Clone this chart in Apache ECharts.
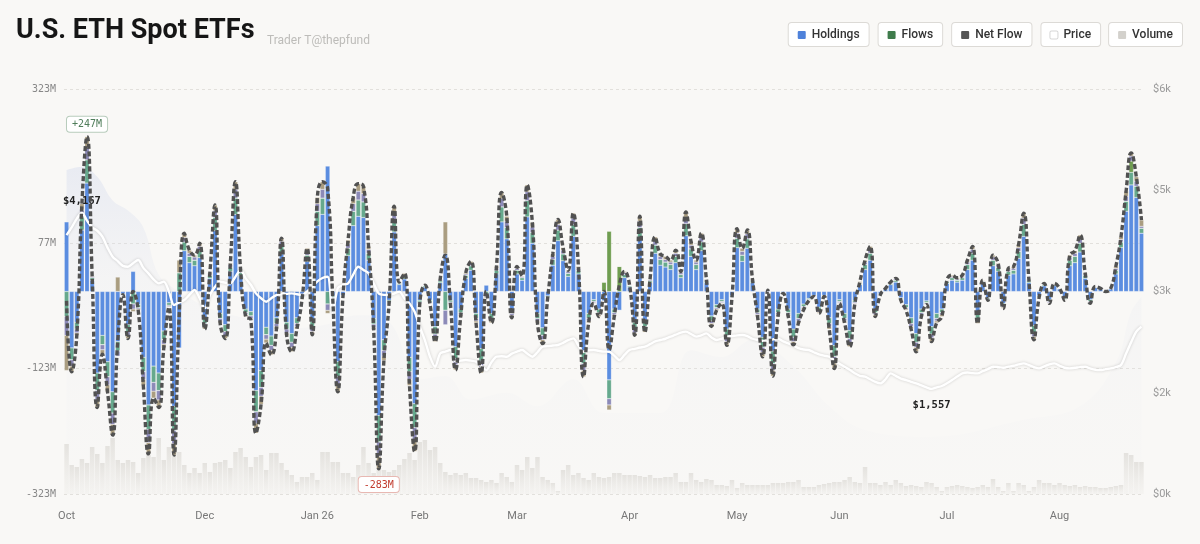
<!DOCTYPE html>
<html><head><meta charset="utf-8">
<script src="https://cdn.jsdelivr.net/npm/echarts@6/dist/echarts.min.js"></script>
<style>html,body{margin:0;padding:0;background:#f9f8f6}#c{width:1200px;height:544px}</style>
</head><body><div id="c"></div>
<script>
// ---- data ----
const monthLabels = ['Oct','Dec','Jan 26','Feb','Mar','Apr','May','Jun','Jul','Aug'];
const monthDays   = [27,22,20,19,22,21,20,21,22,17];

// daily flows ($M) by fund group
const holdings = [
111,-90,-49,98,173,18,-130,-70,-112,-160,
-80,-4,-53,32,-21,-105,-181,-119,-130,-63,
-18,-183,-90,65,46,41,54,-42,21,97,
-35,-53,32,123,25,-28,-32,-158,-126,-57,
-71,-42,60,-49,-67,-42,-9,48,-48,105,
123,200,-7,-112,-6,57,105,120,118,50,
-43,-198,-77,-14,95,11,20,-105,-179,-14,
7,-14,-56,14,60,-14,-88,-28,21,34,
-35,-91,10,-35,28,111,84,-29,28,18,
119,77,-35,-58,-7,42,81,49,24,88,
28,-95,-35,-13,-28,-15,-141,-28,-30,22,
7,-49,84,-46,14,61,42,39,35,46,
22,89,56,35,65,14,-39,-21,-13,-60,
-7,70,48,69,14,-28,-73,1,-95,-28,
-2,-28,-60,-35,-20,-11,-6,-25,-6,-42,
-86,-13,-35,-62,-14,11,35,50,-28,-4,
4,11,15,-10,-21,-42,-67,-28,-15,-56,
-35,-28,13,18,15,18,35,50,-36,13,
-10,41,32,-19,26,28,53,88,14,-54,
-7,9,-13,9,4,-10,41,46,63,21,
-13,6,4,0,4,28,70,128,170,150,
93];
const flows = [
-40,-19,-11,21,37,4,-28,-15,-24,-34,
-15,-1,-11,-20,-5,-23,-39,-26,-28,-14,
-4,-39,30,14,10,9,12,-9,5,21,
-8,-11,7,26,5,-6,-7,-34,-27,-12,
-15,-9,13,-11,-14,-9,-2,10,-10,23,
26,-20,-2,-24,-1,12,23,26,25,11,
-9,-42,-17,-3,20,2,4,-23,-38,-3,
2,-3,-12,3,-30,-3,-19,-6,5,7,
-8,-20,-6,-8,6,24,18,-6,6,4,
26,17,-8,-12,-2,9,17,11,5,19,
6,-20,-8,-3,-6,0,-30,-6,0,5,
2,-11,18,-10,3,13,9,8,8,10,
5,19,12,8,14,3,-8,-5,-3,-13,
-2,15,10,15,3,-6,-16,1,-20,-6,
-1,-6,-13,-8,-4,-2,-1,-5,-1,-9,
-18,-3,-8,-13,-3,2,8,11,-6,-1,
1,2,3,-2,-5,-9,-14,-6,-3,-12,
-8,-6,3,4,3,4,8,11,-8,3,
-2,9,7,-4,6,6,11,19,3,-12,
-2,2,-3,2,1,-2,9,10,14,5,
-3,1,1,0,1,6,9,16,20,18,
8];
const miniFlows = [
-30,-10,-6,11,20,2,-15,-8,-13,-18,
-8,0,-6,-8,-2,-12,-21,-14,-15,-7,
-2,-21,0,7,5,5,6,-5,2,11,
-4,-6,4,14,3,-3,-4,-18,-14,-7,
-8,-5,7,-6,-8,-5,-1,6,-6,12,
14,-10,-1,-13,-1,7,12,14,13,6,
-5,-23,-9,-2,11,1,2,-12,-20,-2,
1,-2,-6,2,-23,-2,-10,-3,2,4,
-4,-10,-2,-4,3,13,10,-3,3,2,
14,9,-4,-7,-1,5,9,6,3,10,
3,-11,-4,-2,-3,0,-10,-3,0,3,
1,-6,10,-5,2,7,5,4,4,5,
3,10,6,4,7,2,-4,-2,-2,-7,
-1,8,6,8,2,-3,-8,0,-11,-3,
0,-3,-7,-4,-2,-1,-1,-3,-1,-5,
-10,-2,-4,-7,-2,1,4,6,-3,0,
0,1,2,-1,-2,-5,-8,-3,-2,-6,
-4,-3,1,2,2,2,4,6,-4,1,
-1,5,4,-2,3,3,6,10,2,-6,
-1,1,-2,1,0,-1,5,5,7,2,
-2,1,0,0,0,3,4,8,8,8,
3];
const otherFlows = [
-56,-9,-4,10,17,1,-12,-7,-11,-17,
23,0,-5,-4,-2,-10,-18,-11,-12,-6,
-1,-18,20,7,5,3,5,-4,2,9,
-3,-5,2,12,2,-3,-2,-16,-13,-6,
-7,-4,5,-4,-7,-4,-1,5,-5,10,
12,-5,0,-11,0,6,10,12,12,5,
-4,-20,-7,-1,10,1,3,-10,-18,-1,
0,-1,-6,1,51,-1,-8,-3,2,3,
-3,-9,-2,-3,3,10,8,-4,3,1,
11,7,-3,-6,0,4,8,4,2,8,
3,-10,-3,-1,-3,0,-8,-3,0,2,
0,-4,8,-4,1,6,4,5,3,5,
2,9,6,3,7,1,-5,-2,-1,-6,
0,7,5,6,1,-3,-7,0,-9,-3,
0,-3,-5,-3,-3,-1,0,-2,0,-4,
-9,-1,-3,-6,-1,2,3,5,-3,0,
0,1,1,-1,-2,-4,-7,-3,-1,-6,
-3,-3,1,2,2,2,3,5,-3,1,
-1,3,2,-2,2,3,5,8,1,-5,
0,1,-1,1,0,-1,3,4,6,2,
-1,0,0,0,0,3,4,8,5,7,
10];
const greenFlows = [[105,15],[106,96],[108,40],[208,18]]; // [day index, $M]

// ETH price ($)
const price = [
3836,3950,4080,4167,4050,3950,3900,3812,3650,3516,
3450,3380,3367,3420,3466,3350,3269,3180,3121,3146,
3000,2799,2840,2873,2950,3022,2900,2750,2950,3071,
3146,3130,3121,3220,3318,3195,3100,2972,2900,2849,
2900,2948,2960,2965,2972,2960,2948,3000,3071,3150,
3200,3219,2700,3050,3096,3121,3250,3367,3320,3269,
3120,2972,2950,2948,2970,2998,2900,2824,2700,2478,
2281,2034,1886,2084,2110,2133,1961,1975,1985,1975,
1961,1900,1837,1950,2034,2040,2034,2080,2110,2133,
2080,2034,2100,2182,2190,2200,2207,2240,2280,2306,
2200,2108,2130,2133,2120,2110,2108,2050,1985,2060,
2133,2150,2170,2182,2220,2260,2281,2300,2331,2360,
2390,2405,2370,2331,2350,2380,2320,2281,2300,2331,
2340,2350,2355,2340,2300,2281,2270,2257,2290,2300,
2260,2232,2200,2160,2140,2133,2100,2070,2050,2034,
1980,1930,1886,1840,1790,1750,1738,1700,1660,1639,
1700,1787,1750,1710,1688,1660,1639,1610,1580,1557,
1580,1600,1640,1688,1740,1787,1800,1790,1787,1820,
1850,1886,1880,1870,1886,1900,1920,1935,1910,1880,
1861,1890,1920,1935,1900,1870,1861,1870,1880,1886,
1860,1840,1836,1850,1861,1880,1910,2080,2250,2405,
2479];

// trading volume ($M)
const volume = [
500,290,270,350,310,470,400,310,480,560,
340,310,340,320,210,360,390,370,560,340,
470,440,420,290,210,260,210,310,220,310,
320,340,260,420,460,370,270,370,390,240,
410,410,310,240,190,120,170,170,210,140,
420,420,320,320,210,210,170,290,470,310,
210,310,240,220,240,290,350,410,340,520,
540,440,470,310,220,190,210,190,210,160,
160,140,120,140,110,210,170,120,290,240,
370,260,370,170,140,110,30,240,290,190,
210,160,140,210,170,160,170,210,210,190,
190,190,180,170,190,160,160,170,170,210,
120,120,210,140,120,150,140,90,90,80,
140,60,110,90,90,90,90,90,110,110,
110,120,120,140,70,70,70,90,100,110,
120,120,140,170,120,110,270,110,110,90,
120,90,140,110,80,90,80,70,120,110,
70,30,70,80,90,80,70,60,70,90,
70,150,70,30,110,30,110,90,30,70,
140,110,110,90,110,90,80,90,70,80,
70,70,60,60,70,80,90,410,390,320,
320];

// background holdings-value band (price scale), [day index, value]
const holdingsValueKnots = [
[0,4800],[3,4850],[6,4700],[9,4350],[12,4200],[15,3950],[18,3250],[22,3000],[28,2750],[35,2600],
[42,2450],[50,2500],[57,2650],[63,2550],[69,1700],[74,1750],[79,1400],[86,1500],[92,1300],[99,1700],
[105,1200],[116,1200],[122,2130],[128,2030],[134,2280],[142,1890],[149,1300],[156,950],[169,850],[187,1100],
[198,1300],[205,1950],[208,2700],[210,2920]];

const leftTicks = [-323,-123,77,323];

// ---- build ----
const categories = [];
monthLabels.forEach((m, k) => { for (let d = 0; d < monthDays[k]; d++) categories.push(m + '|' + d); });
const N = categories.length;
const green = new Array(N).fill(0);
greenFlows.forEach(([i, v]) => { green[i] = v; });
const netFlow = categories.map((_, i) => holdings[i] + flows[i] + miniFlows[i] + otherFlows[i] + green[i]);
const areaData = new Array(N).fill(null);
holdingsValueKnots.forEach(([i, v]) => { areaData[i] = v; });

const MONO = '"DejaVu Sans Mono", "Liberation Mono", monospace';
const SANS = 'Roboto, "Noto Sans", sans-serif';
const seg = { borderColor: 'rgba(255,255,255,0.6)', borderWidth: 0.4 };
function stackBar(name, data, color) {
  return { name, type: 'bar', stack: 'flow', data, barWidth: 4.5, xAxisIndex: 0, yAxisIndex: 0,
    itemStyle: Object.assign({ color }, seg), z: 3, animation: false };
}
const legendKey = { 'Holdings': 'h', 'Flows': 'f', 'Net Flow': 'n', 'Price': 'p', 'Volume': 'v' };

const chart = echarts.init(document.getElementById('c'), null, { renderer: 'canvas' });
chart.setOption({
  animation: false,
  backgroundColor: '#f9f8f6',
  title: [
    { text: 'U.S. ETH Spot ETFs', left: 11, top: 13,
      textStyle: { fontFamily: SANS, fontWeight: 'bold', fontSize: 27, color: '#161616' } },
    { text: 'Trader T@thepfund', left: 262, top: 30,
      textStyle: { fontFamily: SANS, fontWeight: 'normal', fontSize: 12, color: '#bdbcb9' } }
  ],
  legend: {
    data: ['Holdings', 'Flows', 'Net Flow', 'Price', 'Volume'],
    right: 12, top: 17, itemWidth: 0, itemHeight: 0, itemGap: 3, selectedMode: false,
    formatter: name => '{' + legendKey[name] + '|}{t|' + name + '}',
    textStyle: {
      backgroundColor: '#ffffff', borderColor: '#dcdad6', borderWidth: 1, borderRadius: 3,
      padding: [6, 9, 5, 9],
      rich: {
        h: { width: 8, height: 8, backgroundColor: '#4f82da', borderRadius: 1 },
        f: { width: 8, height: 8, backgroundColor: '#3f7c4c', borderRadius: 1 },
        n: { width: 8, height: 8, backgroundColor: '#555555', borderRadius: 1 },
        p: { width: 7, height: 7, backgroundColor: '#ffffff', borderColor: '#d6d6d6', borderWidth: 1, borderRadius: 1 },
        v: { width: 8, height: 8, backgroundColor: '#d3d1cc', borderRadius: 1 },
        t: { fontFamily: SANS, fontSize: 12, fontWeight: 500, color: '#333', padding: [0, 0, 0, 6] }
      }
    }
  },
  grid: { left: 64, right: 56, top: 89, bottom: 50 },
  xAxis: [
    { type: 'category', data: categories, boundaryGap: true,
      axisLine: { show: false }, axisTick: { show: false },
      axisLabel: { interval: (i, v) => v.endsWith('|0'), formatter: v => v.split('|')[0],
        color: '#777', fontSize: 11, fontFamily: SANS, margin: 17 } },
    { type: 'category', data: categories, show: false }
  ],
  yAxis: [
    { type: 'value', min: -323, max: 323, position: 'left',
      axisLine: { show: false },
      axisTick: { show: false, customValues: leftTicks },
      axisLabel: { customValues: leftTicks, formatter: v => v + 'M', color: '#888',
        fontFamily: MONO, fontSize: 10, margin: 8 },
      splitLine: { show: true, lineStyle: { type: [3, 3], color: '#e2e0dc', width: 1 } } },
    { type: 'value', min: 0, max: 6000, interval: 1500, position: 'right',
      axisLine: { show: false }, axisTick: { show: false }, splitLine: { show: false },
      axisLabel: { formatter: v => '$' + Math.round(v / 1000) + 'k', color: '#9a9a9a',
        fontFamily: SANS, fontSize: 11, margin: 9 } },
    { type: 'value', min: 0, max: 4050, show: false }
  ],
  series: [
    { name: 'Holdings Value', type: 'line', data: areaData, connectNulls: true, smooth: 0.4,
      xAxisIndex: 0, yAxisIndex: 1, symbol: 'none', silent: true, z: 0,
      lineStyle: { width: 0 },
      areaStyle: { color: new echarts.graphic.LinearGradient(0, 0, 0, 1, [
        { offset: 0, color: 'rgba(206,214,236,0.55)' },
        { offset: 0.35, color: 'rgba(222,226,238,0.25)' },
        { offset: 1, color: 'rgba(236,237,240,0.08)' }]) } },
    { name: 'Volume', type: 'bar', data: volume, xAxisIndex: 1, yAxisIndex: 2, barWidth: 4.5, z: 1,
      itemStyle: { color: new echarts.graphic.LinearGradient(0, 0, 0, 1, [
        { offset: 0, color: 'rgba(208,205,199,0.5)' },
        { offset: 1, color: 'rgba(228,226,221,0.2)' }]) } },
    stackBar('Holdings', holdings, '#5b8de0'),
    stackBar('Flows', flows, '#66a98d'),
    stackBar('ETH', green, '#6f9d50'),
    stackBar('Mini', miniFlows, '#8c8ab8'),
    stackBar('Other', otherFlows, '#aa9d80'),
    { name: 'Price', type: 'line', data: price, xAxisIndex: 0, yAxisIndex: 1, smooth: 0.3,
      symbol: 'none', z: 4,
      lineStyle: { color: '#ffffff', width: 2.4, shadowColor: 'rgba(0,0,0,0.18)', shadowBlur: 3 },
      markPoint: { symbol: 'circle', symbolSize: 0,
        label: { show: true, formatter: p => '$' + p.value.toLocaleString('en-US'),
          fontFamily: MONO, fontWeight: 'bold', fontSize: 10.5, color: '#222' },
        data: [ { type: 'max', label: { position: 'top', distance: 6 } },
                { type: 'min', label: { position: 'bottom', distance: 11 } } ] } },
    { name: 'Net Flow', type: 'line', data: netFlow, xAxisIndex: 0, yAxisIndex: 0, smooth: 0.5,
      symbol: 'none', z: 5,
      lineStyle: { color: '#515151', width: 3.4, type: [5, 2.5] },
      markPoint: { symbol: 'circle', symbolSize: 0,
        label: { show: true, fontFamily: MONO, fontSize: 10, backgroundColor: '#ffffff',
          borderWidth: 1, borderRadius: 3, padding: [3, 5, 2, 5] },
        data: [
          { type: 'max', label: { position: 'top', distance: 5, formatter: p => '+' + p.value + 'M',
            color: '#4f7d5a', borderColor: '#b8ccbc' } },
          { type: 'min', label: { position: 'bottom', distance: 8, formatter: p => p.value + 'M',
            color: '#c23b2e', borderColor: '#e8b8b2' } } ] } }
  ]
});
</script>
</body></html>
